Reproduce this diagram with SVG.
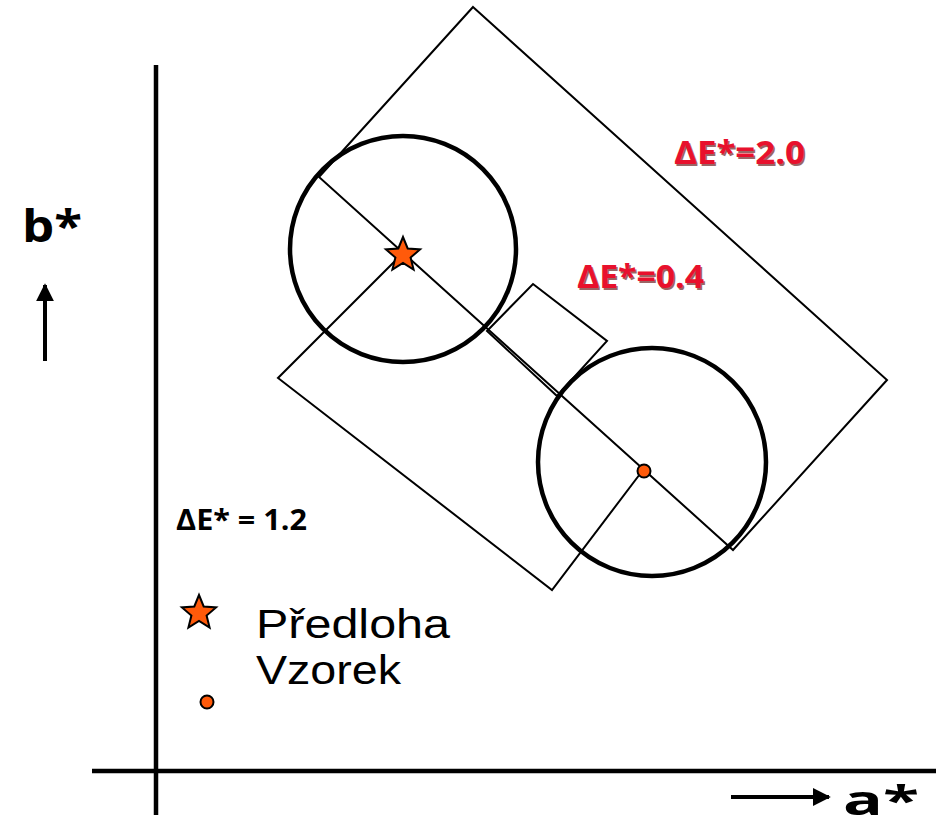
<svg xmlns="http://www.w3.org/2000/svg" width="936" height="829" viewBox="0 0 936 829">
<defs>
<style>
.thin{fill:none;stroke:#000;stroke-width:2}
.circ{fill:none;stroke:#000;stroke-width:4.5}
.axis{stroke:#000;stroke-width:4.5;fill:none}
.red{font-family:"Open Sans","Liberation Sans",sans-serif;font-weight:bold;font-size:32px;fill:#E8112D}
.shadow{font-family:"Open Sans","Liberation Sans",sans-serif;font-weight:bold;font-size:32px;fill:#5a0000;opacity:0.6}
.lbl{font-family:"Open Sans","Liberation Sans",sans-serif;font-weight:bold;fill:#000}
.leg{font-family:"Liberation Sans",Arial,sans-serif;font-size:40px;fill:#000}
.mark{fill:#FF5A0A;stroke:#000;stroke-width:2}
</style>
<marker id="ah" viewBox="0 0 10 10" refX="9" refY="5" markerWidth="4.5" markerHeight="4.5" orient="auto" markerUnits="strokeWidth">
<path d="M0,0 L10,5 L0,10 z" fill="#000"/>
</marker>
</defs>
<rect width="936" height="829" fill="#fff"/>
<g id="axes">
<line class="axis" x1="156" y1="65" x2="156" y2="815"/>
<line class="axis" x1="92" y1="771" x2="936" y2="771"/>
<line x1="45" y1="361" x2="45" y2="285" stroke="#000" stroke-width="4" marker-end="url(#ah)"/>
<line x1="731" y1="797" x2="829" y2="797" stroke="#000" stroke-width="4" marker-end="url(#ah)"/>
<text class="lbl" x="22" y="242" font-size="44" textLength="60" lengthAdjust="spacingAndGlyphs">b*</text>
<text class="lbl" x="843" y="815" font-size="42" textLength="76" lengthAdjust="spacingAndGlyphs">a*</text>
</g>
<g id="tolerance-2-0">
<polygon class="thin" points="473,7 887,380 733,550 319,177"/>
</g>
<g id="tolerance-1-2">
<polyline class="thin" points="400,256 278,378 552,590 643,470"/>
</g>
<g id="tolerance-0-4">
<polygon class="thin" points="533,284 607,341 557,396 487,331"/>
</g>
<g id="circle-predloha">
<circle class="circ" cx="403" cy="249" r="113"/>
</g>
<g id="circle-vzorek">
<circle class="circ" cx="652" cy="462" r="114"/>
</g>
<g id="star-predloha">
<polygon class="mark" transform="translate(403,255)" points="0,-18 4.7,-6.5 17.1,-5.6 7.6,2.5 10.6,14.6 0,8 -10.6,14.6 -7.6,2.5 -17.1,-5.6 -4.7,-6.5"/>
</g>
<g id="dot-vzorek">
<circle class="mark" cx="644" cy="471" r="6.5"/>
</g>
<g id="label-2-0">
<text class="shadow" x="675.5" y="165.5" textLength="131" lengthAdjust="spacingAndGlyphs">ΔE*=2.0</text>
<text class="red" x="674" y="164" textLength="131" lengthAdjust="spacingAndGlyphs">ΔE*=2.0</text>
</g>
<g id="label-0-4">
<text class="shadow" x="578.5" y="289.5" textLength="127" lengthAdjust="spacingAndGlyphs">ΔE*=0.4</text>
<text class="red" x="577" y="288" textLength="127" lengthAdjust="spacingAndGlyphs">ΔE*=0.4</text>
</g>
<g id="label-1-2">
<text class="lbl" x="176" y="530" font-size="29" textLength="131" lengthAdjust="spacingAndGlyphs">ΔE* = 1.2</text>
</g>
<g id="legend">
<polygon class="mark" transform="translate(199,613)" points="0,-18 4.7,-6.5 17.1,-5.6 7.6,2.5 10.6,14.6 0,8 -10.6,14.6 -7.6,2.5 -17.1,-5.6 -4.7,-6.5"/>
<text class="leg" x="256" y="638" textLength="194" lengthAdjust="spacingAndGlyphs">Předloha</text>
<circle class="mark" cx="207" cy="702" r="6.5"/>
<text class="leg" x="256" y="684" textLength="145" lengthAdjust="spacingAndGlyphs">Vzorek</text>
</g>
</svg>
